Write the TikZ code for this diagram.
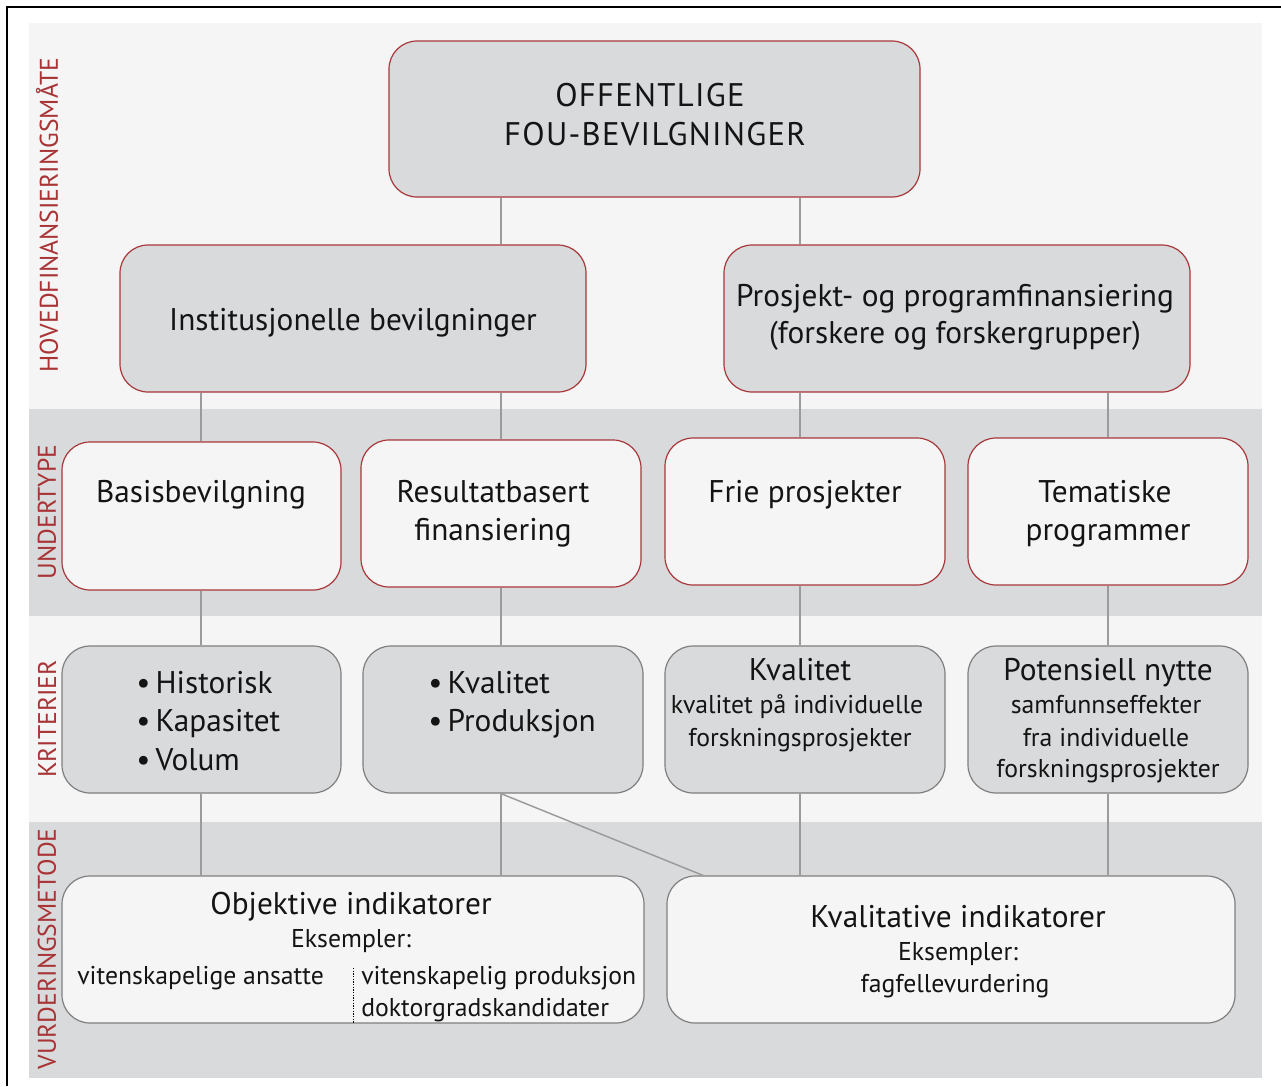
\documentclass[tikz,border=0pt]{standalone}
\usepackage{fontspec}
\setmainfont{PT Sans}
\usetikzlibrary{fit}
\definecolor{redb}{HTML}{A8373A}
\definecolor{redt}{HTML}{A83436}
\definecolor{grayfill}{HTML}{D9DADC}
\definecolor{lightfill}{HTML}{F5F5F5}
\definecolor{conn}{HTML}{9B9B9B}
\definecolor{grayb}{HTML}{7F7F7F}
\definecolor{txt}{HTML}{141414}
\tikzset{
  boxbase/.style={inner sep=0pt, rounded corners=21pt, line width=0.9pt},
  redgray/.style={boxbase, draw=redb, fill=grayfill},
  redlight/.style={boxbase, draw=redb, fill=lightfill},
  graygray/.style={boxbase, draw=grayb, fill=grayfill},
  graylight/.style={boxbase, draw=grayb, fill=lightfill},
  connline/.style={draw=conn, line width=1.1pt},
  txtbase/.style={text=txt, align=center, inner sep=0pt},
  captxt/.style={txtbase, text height=20.5pt, text depth=3.3pt, font=\fontsize{24.5}{30}\selectfont\addfontfeatures{LetterSpace=4}},
  bigtxt/.style={txtbase, text height=20pt, text depth=3.6pt, font=\fontsize{23.5}{30}\selectfont},
  midtxt/.style={txtbase, text height=17pt, text depth=3.1pt, font=\fontsize{19.3}{24}\selectfont},
  sidelabel/.style={text=redt, font=\fontsize{19.2}{22}\selectfont, rotate=90, inner sep=0pt},
  bandlight/.style={fill=lightfill, draw=none},
  banddark/.style={fill=grayfill, draw=none},
}
\begin{document}
\begin{tikzpicture}[x=0.75pt, y=-0.75pt]
\useasboundingbox (0,0) rectangle (1281,1086);
\fill[white] (0,0) rectangle (1281,1086);
% frame (left and top edges visible)
\draw[line width=1.6pt, black] (7,1086) -- (7,7) -- (1281,7);
% bands
\fill[bandlight] (29,23) rectangle (1262,409);
\fill[banddark] (29,409) rectangle (1262,616);
\fill[bandlight] (29,616) rectangle (1262,822);
\fill[banddark] (29,822) rectangle (1262,1078);
% side labels
\node[sidelabel] (s1) at (47,215) {HOVEDFINANSIERINGSMÅTE};
\node[sidelabel] (s2) at (47,512) {UNDERTYPE};
\node[sidelabel] (s3) at (47,719) {KRITERIER};
\node[sidelabel] (s4) at (47,949) {VURDERINGSMETODE};
% boxes
\node[redgray, fit={(389,41) (920,197)}] (top) {};
\node[redgray, fit={(120,245) (586,392)}] (inst) {};
\node[redgray, fit={(724,245) (1190,392)}] (proj) {};
\node[redlight, fit={(62,442) (341,590)}] (basis) {};
\node[redlight, fit={(361,440) (641,587)}] (resul) {};
\node[redlight, fit={(665,438) (945,585)}] (frie) {};
\node[redlight, fit={(968,438) (1248,585)}] (tema) {};
\node[graygray, fit={(62,646) (341,793)}] (hist) {};
\node[graygray, fit={(363,646) (643,793)}] (kval) {};
\node[graygray, fit={(665,646) (945,793)}] (kvalp) {};
\node[graygray, fit={(968,646) (1248,793)}] (pot) {};
\node[graylight, fit={(62,876) (644,1023)}] (obj) {};
\node[graylight, fit={(667,876) (1235,1023)}] (kvt) {};
% connectors
\draw[connline] (501,0 |- top.south) -- (501,0 |- inst.north);
\draw[connline] (800,0 |- top.south) -- (800,0 |- proj.north);
\draw[connline] (201,0 |- inst.south) -- (201,0 |- basis.north);
\draw[connline] (501,0 |- inst.south) -- (501,0 |- resul.north);
\draw[connline] (800,0 |- proj.south) -- (800,0 |- frie.north);
\draw[connline] (1108,0 |- proj.south) -- (1108,0 |- tema.north);
\draw[connline] (201,0 |- basis.south) -- (201,0 |- hist.north);
\draw[connline] (501,0 |- resul.south) -- (501,0 |- kval.north);
\draw[connline] (800,0 |- frie.south) -- (800,0 |- kvalp.north);
\draw[connline] (1108,0 |- tema.south) -- (1108,0 |- pot.north);
\draw[connline] (201,0 |- hist.south) -- (201,0 |- obj.north);
\draw[connline] (501,0 |- kval.south) -- (501,0 |- obj.north);
\draw[connline] (501,0 |- kval.south) -- (703,0 |- kvt.north);
\draw[connline] (800,0 |- kvalp.south) -- (800,0 |- kvt.north);
\draw[connline] (1108,0 |- pot.south) -- (1108,0 |- kvt.north);
% texts
\node[captxt] (ttop1) at (650,95) {OFFENTLIGE};
\node[captxt] (ttop2) at (655,134) {FOU-BEVILGNINGER};
\node[bigtxt] (tinst) at (353,320) {Institusjonelle bevilgninger};
\node[bigtxt] (tproj1) at (955,296) {Prosjekt- og programfinansiering};
\node[bigtxt] (tproj2) at (955,333) {(forskere og forskergrupper)};
\node[bigtxt] (tbasis) at (201,492) {Basisbevilgning};
\node[bigtxt] (tres1) at (493,492) {Resultatbasert};
\node[bigtxt] (tres2) at (493,530) {finansiering};
\node[bigtxt] (tfrie) at (805,492) {Frie prosjekter};
\node[bigtxt] (ttem1) at (1105,492) {Tematiske};
\node[bigtxt] (ttem2) at (1108,530) {programmer};
\node[bigtxt, anchor=west] (th1) at (136,683) {\textbullet\,Historisk};
\node[bigtxt, anchor=west] (th2) at (136,721) {\textbullet\,Kapasitet};
\node[bigtxt, anchor=west] (th3) at (136,760) {\textbullet\,Volum};
\node[bigtxt, anchor=west] (tk1) at (428,683) {\textbullet\,Kvalitet};
\node[bigtxt, anchor=west] (tk2) at (428,721) {\textbullet\,Produksjon};
\node[bigtxt] (tkp1) at (800,670) {Kvalitet};
\node[midtxt] (tkp2) at (797,704) {kvalitet på individuelle};
\node[midtxt] (tkp3) at (800,737) {forskningsprosjekter};
\node[bigtxt] (tpot1) at (1108,670) {Potensiell nytte};
\node[midtxt] (tpot2) at (1106,704) {samfunnseffekter};
\node[midtxt] (tpot3) at (1106,737) {fra individuelle};
\node[midtxt] (tpot4) at (1108,768) {forskningsprosjekter};
\node[bigtxt] (tobj1) at (351,904) {Objektive indikatorer};
\node[midtxt] (tobj2) at (351,938) {Eksempler:};
\node[midtxt, anchor=west] (tobj3) at (77,975) {vitenskapelige ansatte};
\node[midtxt, anchor=west] (tobj4) at (361,975) {vitenskapelig produksjon};
\node[midtxt, anchor=west] (tobj5) at (361,1007) {doktorgradskandidater};
\draw[black, line width=0.5pt, dash pattern=on 1pt off 1pt] (353,968) -- (353,0 |- obj.south);
\node[bigtxt] (tkvt1) at (958,917) {Kvalitative indikatorer};
\node[midtxt] (tkvt2) at (958,951) {Eksempler:};
\node[midtxt] (tkvt3) at (955,983) {fagfellevurdering};
\end{tikzpicture}
\end{document}
